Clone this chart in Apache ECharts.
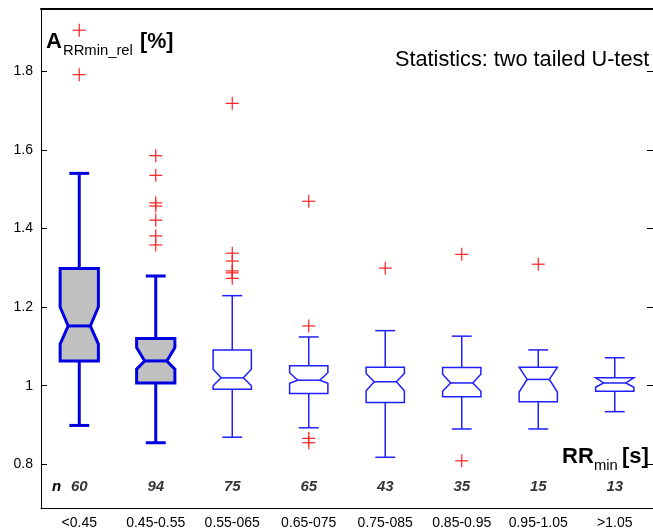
<!DOCTYPE html>
<html>
<head>
<meta charset="utf-8">
<script src="https://cdn.jsdelivr.net/npm/echarts@6/dist/echarts.min.js"></script>
<style>
  html, body { margin: 0; padding: 0; background: #fff; }
  #chart { width: 653px; height: 531px; }
</style>
</head>
<body>
<div id="chart"></div>
<script>
// RR_min groups
var categories = ['<0.45', '0.45-0.55', '0.55-065', '0.65-075', '0.75-085', '0.85-0.95', '0.95-1.05', '>1.05'];
var nCounts = [60, 94, 75, 65, 43, 35, 15, 13];

// box statistics
var whiskerLow  = [0.899, 0.855, 0.869, 0.893, 0.818, 0.890, 0.890, 0.934];
var q1          = [1.063, 1.007, 0.991, 0.980, 0.957, 0.972, 0.959, 0.986];
var median      = [1.152, 1.063, 1.020, 1.014, 1.010, 1.007, 1.016, 1.007];
var q3          = [1.298, 1.120, 1.091, 1.051, 1.047, 1.046, 1.047, 1.020];
var whiskerHigh = [1.540, 1.279, 1.229, 1.124, 1.140, 1.126, 1.091, 1.071];
var notchLow    = [1.106, 1.042, 1.000, 1.006, 0.987, 0.986, 0.984, 0.996];
var notchHigh   = [1.200, 1.097, 1.042, 1.033, 1.031, 1.029, 1.047, 1.020];

// outliers: [group index, value]
var outliers = [
  [0, 1.904], [0, 1.791],
  [1, 1.585], [1, 1.535], [1, 1.465], [1, 1.457], [1, 1.421], [1, 1.381], [1, 1.358],
  [2, 1.718], [2, 1.337], [2, 1.317], [2, 1.292], [2, 1.287], [2, 1.273],
  [3, 1.469], [3, 1.152], [3, 0.866], [3, 0.855],
  [4, 1.299],
  [5, 1.334], [5, 0.809],
  [6, 1.309]
];

var yTicks = [0.8, 1, 1.2, 1.4, 1.6, 1.8];

var FONT = 'Liberation Sans, Arial, sans-serif';

var boxRows = categories.map(function (c, i) {
  return [i, whiskerLow[i], q1[i], median[i], q3[i], whiskerHigh[i], notchLow[i], notchHigh[i]];
});

function renderBox(params, api) {
  var i = api.value(0);
  var cx = api.coord([i, 0])[0];
  var band = api.size([1, 0])[0];
  var y = function (dim) { return api.coord([i, api.value(dim)])[1]; };
  var hw = band * 0.25, nw = hw * 0.58, cw = band * 0.13;
  var bold = i < 2;
  var stroke = bold ? '#0000e0' : '#1f1fff';
  var lw = bold ? 3 : 1.5;
  var yLo = y(1), yQ1 = y(2), yMed = y(3), yQ3 = y(4), yHi = y(5), yNl = y(6), yNh = y(7);
  var lineStyle = { stroke: stroke, lineWidth: lw };
  return {
    type: 'group',
    children: [
      { type: 'line', shape: { x1: cx, y1: yQ3, x2: cx, y2: yHi }, style: lineStyle },
      { type: 'line', shape: { x1: cx, y1: yQ1, x2: cx, y2: yLo }, style: lineStyle },
      { type: 'line', shape: { x1: cx - cw, y1: yHi, x2: cx + cw, y2: yHi }, style: lineStyle },
      { type: 'line', shape: { x1: cx - cw, y1: yLo, x2: cx + cw, y2: yLo }, style: lineStyle },
      {
        type: 'polygon',
        shape: {
          points: [
            [cx - hw, yQ3], [cx + hw, yQ3], [cx + hw, yNh], [cx + nw, yMed], [cx + hw, yNl],
            [cx + hw, yQ1], [cx - hw, yQ1], [cx - hw, yNl], [cx - nw, yMed], [cx - hw, yNh]
          ]
        },
        style: { fill: bold ? '#c0c0c0' : '#ffffff', stroke: stroke, lineWidth: lw, lineJoin: 'miter' }
      },
      { type: 'line', shape: { x1: cx - nw, y1: yMed, x2: cx + nw, y2: yMed }, style: lineStyle }
    ]
  };
}

function renderCross(params, api) {
  var p = api.coord([api.value(0), api.value(1)]);
  var s = 6.5;
  var st = { stroke: '#ff2020', lineWidth: 1.2 };
  return {
    type: 'group',
    children: [
      { type: 'line', shape: { x1: p[0] - s, y1: p[1], x2: p[0] + s, y2: p[1] }, style: st },
      { type: 'line', shape: { x1: p[0], y1: p[1] - s, x2: p[0], y2: p[1] + s }, style: st }
    ]
  };
}

var chart = echarts.init(document.getElementById('chart'));

chart.setOption({
  animation: false,
  backgroundColor: '#fff',
  textStyle: { fontFamily: FONT },
  grid: { left: 41, top: 9, width: 615, height: 499 },
  xAxis: [
    {
      type: 'category', data: categories, position: 'bottom',
      axisLine: { lineStyle: { color: '#000', width: 1 } },
      axisTick: { inside: true, alignWithLabel: true, length: 7, lineStyle: { color: '#000' } },
      axisLabel: { color: '#000', fontSize: 14, fontFamily: FONT, margin: 8, interval: 0 },
      splitLine: { show: false }
    },
    {
      type: 'category', data: categories, position: 'top',
      axisLine: { lineStyle: { color: '#000', width: 2 } },
      axisTick: { inside: true, alignWithLabel: true, length: 7, lineStyle: { color: '#000' } },
      axisLabel: { show: false },
      splitLine: { show: false }
    }
  ],
  yAxis: [
    {
      type: 'value', min: 0.689, max: 1.958, position: 'left',
      axisLine: { show: true, lineStyle: { color: '#000', width: 1 } },
      axisTick: { show: true, inside: true, length: 6, customValues: yTicks, lineStyle: { color: '#000' } },
      axisLabel: {
        color: '#000', fontSize: 14, fontFamily: FONT, margin: 8, customValues: yTicks,
        formatter: function (v) { return String(Number(v.toFixed(1))); }
      },
      splitLine: { show: false }
    },
    {
      type: 'value', min: 0.689, max: 1.958, position: 'right',
      axisLine: { show: true, lineStyle: { color: '#000', width: 1 } },
      axisTick: { show: true, inside: true, length: 6, customValues: yTicks, lineStyle: { color: '#000' } },
      axisLabel: { show: false },
      splitLine: { show: false }
    }
  ],
  series: [
    {
      type: 'custom', name: 'box', xAxisIndex: 0, yAxisIndex: 0,
      renderItem: renderBox,
      encode: { x: 0, y: [1, 2, 3, 4, 5] },
      data: boxRows, z: 3
    },
    {
      type: 'custom', name: 'outliers', xAxisIndex: 0, yAxisIndex: 0,
      renderItem: renderCross,
      encode: { x: 0, y: 1 },
      data: outliers, z: 4
    },
    {
      type: 'scatter', name: 'n', xAxisIndex: 0, yAxisIndex: 0,
      symbolSize: 0,
      data: nCounts.map(function (n, i) { return [i, 0.743, n]; }),
      label: {
        show: true, position: 'inside', color: '#000',
        fontSize: 15, fontWeight: 'bold', fontStyle: 'italic', fontFamily: FONT,
        formatter: function (p) { return p.data[2]; }
      },
      silent: true
    }
  ],
  graphic: [
    { type: 'text', left: 46, top: 31, style: { text: 'A', font: 'bold 22px ' + FONT, fill: '#000' } },
    { type: 'text', left: 63, top: 43, style: { text: 'RRmin_rel', font: '14.8px ' + FONT, fill: '#000' } },
    { type: 'text', left: 140, top: 31, style: { text: '[%]', font: 'bold 21.5px ' + FONT, fill: '#000' } },
    { type: 'text', left: 395, top: 49, style: { text: 'Statistics: two tailed U-test', font: '21.7px ' + FONT, fill: '#000' } },
    { type: 'text', left: 562, top: 446, style: { text: 'RR', font: 'bold 22px ' + FONT, fill: '#000' } },
    { type: 'text', left: 594, top: 458, style: { text: 'min', font: '14.8px ' + FONT, fill: '#000' } },
    { type: 'text', left: 622, top: 446, style: { text: '[s]', font: 'bold 22px ' + FONT, fill: '#000' } },
    { type: 'text', left: 52, top: 479, style: { text: 'n', font: 'italic bold 15px ' + FONT, fill: '#000' } }
  ]
});
</script>
</body>
</html>
